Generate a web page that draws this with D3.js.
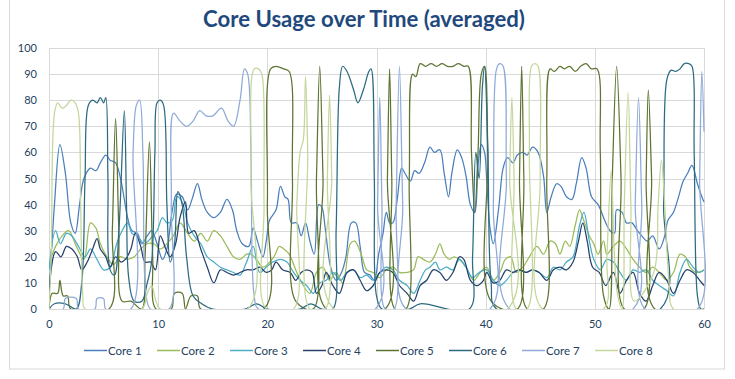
<!DOCTYPE html>
<html><head><meta charset="utf-8">
<script src="https://cdn.jsdelivr.net/npm/d3@7"></script>
<style>html,body{margin:0;padding:0;background:#fff;}svg{display:block;}</style>
</head><body>
<svg id="chart" width="735" height="379"></svg>
<script>
const title = "Core Usage over Time (averaged)";
const seriesNames = ["Core 1","Core 2","Core 3","Core 4","Core 5","Core 6","Core 7","Core 8"];
const seriesColors = ["#4A7EBB","#9BBB59","#4BACC6","#24406B","#5E7431","#2B6A80","#8EAAD8","#C3D69B"];
const xTicks = [0,10,20,30,40,50,60];
const yTicks = [0,10,20,30,40,50,60,70,80,90,100];

// [time (s), usage %] pairs
const core1 = [[0,5],[0.5,40],[1.0,63],[1.5,52],[2.0,33],[2.4,29],[2.8,40],[3.2,50],[3.8,54],[4.3,53],[4.7,56],[5.2,59],[5.6,57],[6.1,56],[6.6,49],[6.9,42],[7.2,35],[7.6,30],[8.1,29],[8.5,25],[9.0,28],[9.4,30],[9.9,25],[10.4,19],[10.8,23],[11.3,38],[11.7,44],[12.2,43],[12.7,38],[13.1,42],[13.6,48],[14.0,42],[14.5,37],[15.1,35],[15.7,37],[16.3,42],[16.8,38],[17.2,30],[17.7,25],[18.3,24],[18.7,31],[19.1,26],[19.6,20],[19.9,26],[20.2,34],[20.8,38],[21.2,47],[21.6,43],[21.9,42],[22.2,33],[22.7,33],[23.1,28],[23.5,33],[23.9,26],[24.3,21],[24.7,40],[25.0,39],[25.3,31],[25.8,16],[26.3,11],[26.8,14],[27.2,20],[27.7,33],[28.1,33],[28.5,24],[28.9,14],[29.4,13],[29.8,11],[30.2,21],[30.6,29],[30.9,37],[31.2,33],[31.5,33],[31.9,42],[32.3,54],[32.6,52],[33.1,49],[33.5,53],[33.9,52],[34.4,56],[34.9,62],[35.3,60],[35.8,61],[36.2,52],[36.6,43],[36.9,52],[37.4,61],[37.8,58],[38.2,51],[38.6,40],[39.0,37],[39.3,55],[39.6,63],[39.9,60],[40.1,49],[40.4,31],[40.7,25],[41.2,39],[41.6,54],[42.0,58],[42.5,56],[42.9,59],[43.4,60],[43.8,59],[44.3,62],[44.8,60],[45.3,51],[45.6,37],[46.0,43],[46.5,48],[46.9,47],[47.4,43],[47.9,42],[48.3,48],[48.8,58],[49.2,54],[49.7,43],[50.3,40],[50.9,34],[51.4,30],[51.8,29],[52.0,38],[52.5,37],[52.9,33],[53.4,33],[53.9,30],[54.3,28],[54.8,26],[55.3,28],[55.9,23],[56.4,28],[56.7,34],[57.2,37],[57.6,42],[58.1,49],[58.5,52],[58.9,55],[59.4,48],[59.8,43],[60,41]];
const core2 = [[0,17],[0.6,24],[1.2,28],[1.8,30],[2.5,24],[3.2,19],[3.8,33],[4.3,31],[4.7,25],[5.3,20],[5.9,17],[6.5,20],[7.2,19],[7.8,20],[8.4,23],[9.0,25],[9.6,25],[10.2,23],[10.8,25],[11.4,28],[12.0,33],[12.7,29],[13.3,26],[13.9,29],[14.5,26],[15.1,30],[15.7,28],[16.3,24],[16.9,20],[17.5,19],[18.1,21],[18.5,21],[19.0,19],[19.6,16],[20.6,20],[21.1,24],[21.5,23],[22.0,21],[22.7,14],[23.3,9],[23.9,6],[24.5,14],[25.1,16],[25.7,11],[26.3,14],[26.9,10],[27.6,25],[28.0,26],[28.6,21],[29.1,15],[29.7,14],[30.3,12],[30.9,15],[31.5,16],[32.1,14],[32.8,14],[33.4,15],[33.8,20],[34.3,19],[34.9,18],[35.4,21],[35.8,25],[36.2,21],[36.7,19],[37.1,20],[37.6,19],[38.2,16],[38.9,11],[39.5,14],[40.1,16],[40.7,11],[41.3,14],[41.8,19],[42.3,20],[42.8,14],[43.4,16],[44.0,20],[44.7,24],[45.3,21],[45.9,26],[46.4,25],[46.8,21],[47.3,26],[47.7,24],[48.2,32],[48.6,38],[48.9,35],[49.5,28],[49.9,25],[50.3,21],[50.8,26],[51.1,21],[51.7,24],[52.3,26],[52.9,23],[53.5,19],[54.1,16],[54.7,14],[55.3,16],[55.9,14],[56.6,11],[57.2,14],[57.8,21],[58.3,20],[58.7,16],[59.3,14],[60,15]];
const core3 = [[0,15],[0.6,30],[1.05,25],[1.6,29],[2.1,28],[2.7,24],[3.3,20],[3.8,23],[4.4,19],[5.0,15],[5.6,16],[6.2,25],[6.7,30],[7.2,33],[7.6,29],[8.1,28],[8.7,25],[9.3,27],[9.9,30],[10.4,35],[10.8,33],[11.3,34],[11.7,43],[12.2,41],[12.7,33],[13.3,28],[13.9,25],[14.5,20],[15.1,18],[15.7,16],[16.3,15],[16.9,14],[17.5,13],[18.1,18],[18.7,24],[19.3,14],[19.9,16],[20.5,18],[21.2,19],[21.8,18],[22.4,14],[23.0,11],[23.6,9],[24.2,6],[24.8,10],[25.4,11],[26.0,14],[26.7,11],[27.3,14],[27.9,15],[28.5,12],[29.1,13],[29.7,11],[30.3,14],[30.9,16],[31.5,15],[32.1,11],[32.8,9],[33.4,6],[34.0,11],[34.5,15],[34.9,16],[35.4,18],[35.8,15],[36.4,16],[37.0,15],[37.6,19],[38.2,16],[38.8,12],[39.4,14],[40.1,15],[40.7,11],[41.3,9],[41.9,11],[42.5,14],[43.1,15],[43.7,14],[44.3,15],[44.9,14],[45.6,12],[46.2,16],[46.8,15],[47.4,18],[48.0,20],[48.6,32],[49.0,37],[49.5,26],[49.9,19],[50.5,15],[51.1,19],[51.7,18],[52.3,14],[52.9,11],[53.5,15],[54.1,14],[54.7,15],[55.3,11],[55.9,9],[56.6,7],[57.2,5],[57.8,14],[58.4,19],[59.0,16],[59.6,14],[60,15]];
const core4 = [[0,7],[0.6,22],[1.1,20],[1.6,24],[2.1,23],[2.6,20],[3.0,15],[3.5,18],[4.0,23],[4.4,27],[4.7,23],[5.2,20],[5.6,16],[6.1,20],[6.6,18],[7.0,19],[7.5,23],[7.9,29],[8.4,24],[8.8,18],[9.3,18],[9.75,15],[10.2,28],[10.7,23],[11.1,20],[11.6,25],[12.0,35],[12.5,41],[12.8,29],[13.3,30],[13.9,23],[14.5,16],[15.1,10],[15.7,15],[16.3,14],[16.9,13],[17.5,14],[18.1,15],[18.7,15],[19.3,16],[19.9,14],[20.4,15],[20.8,18],[21.4,15],[22.1,14],[22.6,11],[23.1,14],[23.6,15],[24.1,14],[24.5,6],[25.0,9],[25.4,14],[26.0,9],[26.6,6],[27.3,14],[27.9,15],[28.5,11],[29.1,7],[29.7,9],[30.3,14],[30.9,15],[31.5,14],[32.1,9],[32.8,6],[33.4,3],[34.0,9],[34.6,11],[35.2,15],[35.8,14],[36.4,11],[37.0,14],[37.6,20],[38.0,19],[38.6,11],[39.2,9],[39.8,11],[40.1,14],[40.7,10],[41.3,11],[41.9,15],[42.5,14],[43.1,15],[43.7,14],[44.3,15],[44.9,14],[45.6,11],[46.2,15],[46.8,16],[47.4,15],[48.0,18],[48.5,26],[48.9,33],[49.3,26],[49.8,16],[50.4,14],[51.0,9],[51.7,14],[52.3,6],[52.9,11],[53.5,14],[54.1,6],[54.7,3],[55.3,9],[55.9,14],[56.6,11],[57.2,6],[57.8,11],[58.4,15],[59.0,14],[59.6,11],[60,9]];
const core5 = [[0,0],[0.3,6],[0.8,6],[1.0,11],[1.3,5],[1.7,5],[2.0,0],[5.5,0],[5.8,30],[6.1,73],[6.4,30],[6.7,3],[7.5,3],[8.5,0],[8.8,20],[9.2,64],[9.5,20],[9.8,0],[11.2,0],[11.5,6],[12.2,6],[12.5,0],[13.0,5],[13.6,5],[13.9,0],[19.7,0],[20.0,40],[20.3,92],[20.8,93],[21.5,92],[22.0,91],[22.3,50],[22.6,3],[24.2,0],[24.5,50],[24.8,93],[25.1,50],[25.4,0],[30.8,0],[31.0,50],[31.2,92],[31.4,50],[31.7,0],[32.7,0],[33.0,50],[33.3,90],[33.6,89],[34.0,94],[34.5,93],[35.0,94],[35.5,93],[36.0,94],[36.5,93],[37.0,93],[37.5,94],[38.0,93],[38.4,93],[38.7,60],[39.0,37],[39.3,60],[39.6,90],[39.9,93],[40.2,60],[40.5,3],[42.9,0],[43.1,50],[43.3,93],[43.5,50],[43.8,0],[45.3,0],[45.6,50],[45.9,92],[46.3,91],[46.8,93],[47.2,92],[47.7,93],[48.2,91],[48.7,93],[49.2,94],[49.7,92],[50.2,92],[50.5,60],[50.8,5],[51.3,0],[51.6,50],[52.0,93],[52.4,50],[52.7,0],[54.5,0],[54.7,50],[54.9,84],[55.2,50],[55.5,0],[60,0]];
const core6 = [[0,0],[0.5,2],[1.5,2],[2.5,0],[3.0,10],[3.3,50],[3.6,78],[4.0,80],[4.4,79],[4.7,81],[5.0,79],[5.2,81],[5.4,50],[5.6,15],[6.0,13],[6.4,30],[6.9,76],[7.1,40],[7.3,12],[7.8,3],[8.5,3],[9.0,10],[9.4,18],[9.7,60],[9.9,79],[10.2,80],[10.5,78],[10.8,40],[11.1,18],[11.5,25],[11.8,45],[12.2,40],[12.6,20],[13.2,5],[14,2],[15,0],[18,0],[19,2],[20,0],[23,0],[24,2],[25,0],[26.0,0],[26.3,30],[26.6,85],[26.9,93],[27.3,91],[27.9,84],[28.3,79],[28.8,84],[29.3,91],[29.5,92],[29.8,50],[30.0,5],[30.5,0],[33,0],[34,2],[38.5,0],[38.8,20],[39.1,60],[39.4,50],[39.7,85],[39.9,93],[40.2,60],[40.5,10],[41,0],[56.0,0],[56.3,40],[56.6,88],[57.0,91.5],[57.4,91],[57.8,92],[58.2,94],[58.6,94],[58.9,93],[59.1,60],[59.4,5],[59.7,0],[60,0]];
const core7 = [[0,0],[1.3,0],[1.5,4],[2.5,4],[2.7,0],[4.2,0],[4.4,4],[5.0,4],[5.2,0],[7.5,0],[7.7,60],[8.0,78],[8.3,80],[8.6,60],[8.9,5],[9.3,0],[11.0,0],[11.2,40],[11.4,75],[12.0,72],[12.6,70],[13.2,72],[13.8,76],[14.4,74],[15.0,74],[15.8,77],[16.4,72],[16.9,70],[17.5,80],[17.9,92],[18.2,90],[18.5,60],[18.8,5],[19.2,0],[29.9,0],[30.1,40],[30.3,81],[30.5,40],[30.8,0],[31.6,0],[31.8,40],[32.1,93],[32.4,40],[32.7,0],[40.4,0],[40.7,40],[41.0,92],[41.3,94],[41.6,93],[41.9,50],[42.2,0],[53.5,0],[53.7,40],[54.0,81],[54.3,40],[54.6,0],[59.4,0],[59.6,50],[59.8,91],[60,68]];
const core8 = [[0,0],[0.2,20],[0.5,75],[0.8,79],[1.2,77],[1.6,78],[2.0,80],[2.4,79],[2.7,75],[2.9,40],[3.1,5],[3.3,0],[8.5,0],[9.0,6],[9.4,9],[9.8,3],[10.2,0],[18.2,0],[18.5,50],[18.8,92],[19.2,92],[19.5,90],[19.7,40],[19.9,0],[22.4,0],[22.7,40],[23.0,60],[23.3,65],[23.5,89],[23.7,60],[23.9,0],[25.3,0],[25.5,50],[25.7,82],[25.9,50],[26.1,0],[42.0,0],[42.2,50],[42.4,81],[42.6,50],[42.8,0],[43.8,0],[44.0,60],[44.2,93],[44.5,94],[44.8,93],[45.0,50],[45.2,0],[50.8,0],[51.1,20],[51.5,53],[51.8,20],[52.1,5],[52.5,0],[52.7,40],[53.05,83],[53.3,40],[53.6,3],[55.4,14],[55.8,40],[56.1,57],[56.4,40],[56.8,10],[57.2,0],[60,0]];

const seriesData = [core1, core2, core3, core4, core5, core6, core7, core8];

const svg = d3.select("#chart");
const plot = {left: 49, right: 704, top: 48, bottom: 309};
const textColor = "#243F60";
const gridColor = "#D9D9D9";
const font = "Lato, 'Open Sans', sans-serif";

// outer frame
svg.append("rect").attr("x", 9.5).attr("y", -2).attr("width", 715).attr("height", 371)
  .attr("fill", "#fff").attr("stroke", gridColor).attr("stroke-width", 1);

const x = d3.scaleLinear().domain([0, 60]).range([plot.left, plot.right]);
const y = d3.scaleLinear().domain([0, 100]).range([plot.bottom, plot.top]);

svg.append("clipPath").attr("id", "plotclip").append("rect")
  .attr("x", plot.left).attr("y", plot.top - 2)
  .attr("width", plot.right - plot.left + 2).attr("height", plot.bottom - plot.top + 2);

// gridlines
const grid = svg.append("g");
grid.selectAll("line.h").data(yTicks).join("line")
  .attr("x1", plot.left).attr("x2", plot.right)
  .attr("y1", d => Math.round(y(d)) + 0.5).attr("y2", d => Math.round(y(d)) + 0.5)
  .attr("stroke", gridColor);
grid.selectAll("line.v").data(xTicks).join("line")
  .attr("y1", plot.top).attr("y2", plot.bottom)
  .attr("x1", d => Math.round(x(d)) + 0.5).attr("x2", d => Math.round(x(d)) + 0.5)
  .attr("stroke", gridColor);

// axes (labels only)
const yAxis = d3.axisLeft(y).tickValues(yTicks).tickSize(0).tickPadding(12);
const gy = svg.append("g").attr("transform", `translate(${plot.left},0)`).call(yAxis);
gy.select(".domain").remove();
gy.selectAll("text").attr("fill", textColor).style("font-family", font).style("font-size", "11px");

const xAxis = d3.axisBottom(x).tickValues(xTicks).tickSize(0).tickPadding(11);
const gx = svg.append("g").attr("transform", `translate(0,${plot.bottom})`).call(xAxis);
gx.select(".domain").remove();
gx.selectAll("text").attr("fill", textColor).style("font-family", font).style("font-size", "11px");

// lines
const line = d3.line().x(d => x(d[0])).y(d => y(d[1])).curve(d3.curveCatmullRom.alpha(0.5));
const lines = svg.append("g").attr("clip-path", "url(#plotclip)");
seriesData.forEach((data, i) => {
  lines.append("path").datum(data).attr("d", line)
    .attr("fill", "none").attr("stroke", seriesColors[i])
    .attr("stroke-width", 1.25).attr("stroke-linejoin", "round");
});

// title
const t = svg.append("text").attr("x", 364).attr("y", 27).attr("text-anchor", "middle")
  .attr("fill", "#1F497D").style("font-family", font).style("font-weight", "bold")
  .style("font-size", "18px").text(title);
const tw = t.node().getComputedTextLength();
t.style("font-size", (18 * 322 / tw).toFixed(2) + "px");

// legend
const legend = svg.append("g");
seriesNames.forEach((name, i) => {
  const lx = 84 + i * 73;
  legend.append("line").attr("x1", lx).attr("x2", lx + 23).attr("y1", 350.5).attr("y2", 350.5)
    .attr("stroke", seriesColors[i]).attr("stroke-width", 1.5);
  legend.append("text").attr("x", lx + 24).attr("y", 354.5).attr("fill", textColor)
    .style("font-family", font).style("font-size", "11.5px").text(name);
});
</script>
</body></html>
